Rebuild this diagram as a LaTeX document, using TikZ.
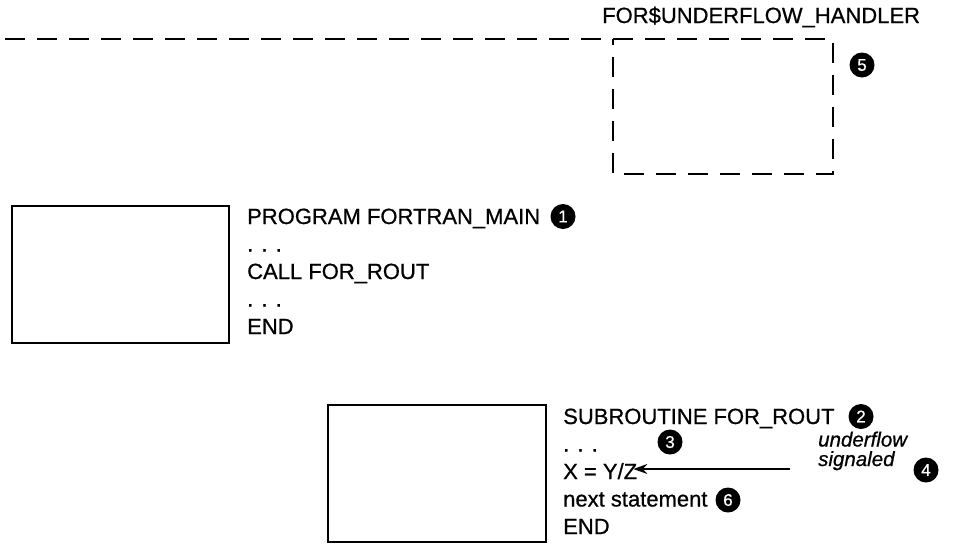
\documentclass[tikz,border=0pt]{standalone}
\usepackage{fontspec}
\setmainfont{Liberation Sans}
\newfontfamily\reffont{Liberation Sans}[FakeBold=0.7]
\usetikzlibrary{arrows.meta}
\tikzset{
  codebox/.style={draw, line width=1.6pt, minimum width=217pt, minimum height=137pt, inner sep=0pt},
  codeline/.style={anchor=base west, inner sep=0pt, font=\reffont\fontsize{22}{26}\selectfont},
  numdot/.style={circle, fill=black, text=white, minimum size=25pt, inner sep=0pt, font=\reffont\fontsize{17}{19}\selectfont},
  dashline/.style={line width=2.3pt, dash pattern=on 20pt off 12pt},
  sigarrow/.style={line width=1.6pt, -{Stealth[length=14pt,width=10pt]}},
}
\begin{document}
\begin{tikzpicture}[x=1pt,y=-1pt]
\useasboundingbox (0,0) rectangle (957,544);
% handler (dashed)
\node[codeline] (hname) at (602,23) {FOR\$UNDERFLOW\_HANDLER};
\coordinate (dstart) at (5,39);
\coordinate (dtr) at (833,39);
\coordinate (dbr) at (833,174);
\coordinate (dbl) at (613,174);
\coordinate (dtl) at (613,39);
\draw[dashline] (dstart) -- (dtr) -- (dbr) -- (dbl) -- (dtl);
\node[numdot] (n5) at (862,65) {5};
% main program
\node[codebox] (mainbox) at (120.5,274.5) {};
\node[codeline] (m1) at (247,224) {PROGRAM FORTRAN\_MAIN};
\node[numdot] (n1) at (563,216.5) {1};
\node[codeline] (m2) at (247,251.5) {. . .};
\node[codeline] (m3) at (247,279) {CALL FOR\_ROUT};
\node[codeline] (m4) at (247,306.5) {. . .};
\node[codeline] (m5) at (247,334) {END};
% subroutine
\node[codebox, minimum width=218pt] (subbox) at (437,473.5) {};
\node[codeline] (s1) at (563,424) {SUBROUTINE FOR\_ROUT};
\node[numdot] (n2) at (861,416.5) {2};
\node[codeline] (s2) at (563,451.5) {. . .};
\node[numdot] (n3) at (670,442) {3};
\node[codeline] (xyz) at (563,479) {X = Y/Z};
\node[codeline] (s4) at (563,506.5) {next statement};
\node[numdot] (n6) at (728,500) {6};
\node[codeline] (s5) at (563,534) {END};
% underflow signaled
\node[anchor=base west, inner sep=0pt, align=left, font=\reffont\fontsize{20.5}{19.5}\selectfont\itshape] (uf) at (818,466) {underflow\\signaled};
\node[numdot] (n4) at (926,470) {4};
\coordinate (tail) at (790,469);
\draw[sigarrow, shorten >=-4pt] (tail) -- (xyz.east |- tail);
\end{tikzpicture}
\end{document}
